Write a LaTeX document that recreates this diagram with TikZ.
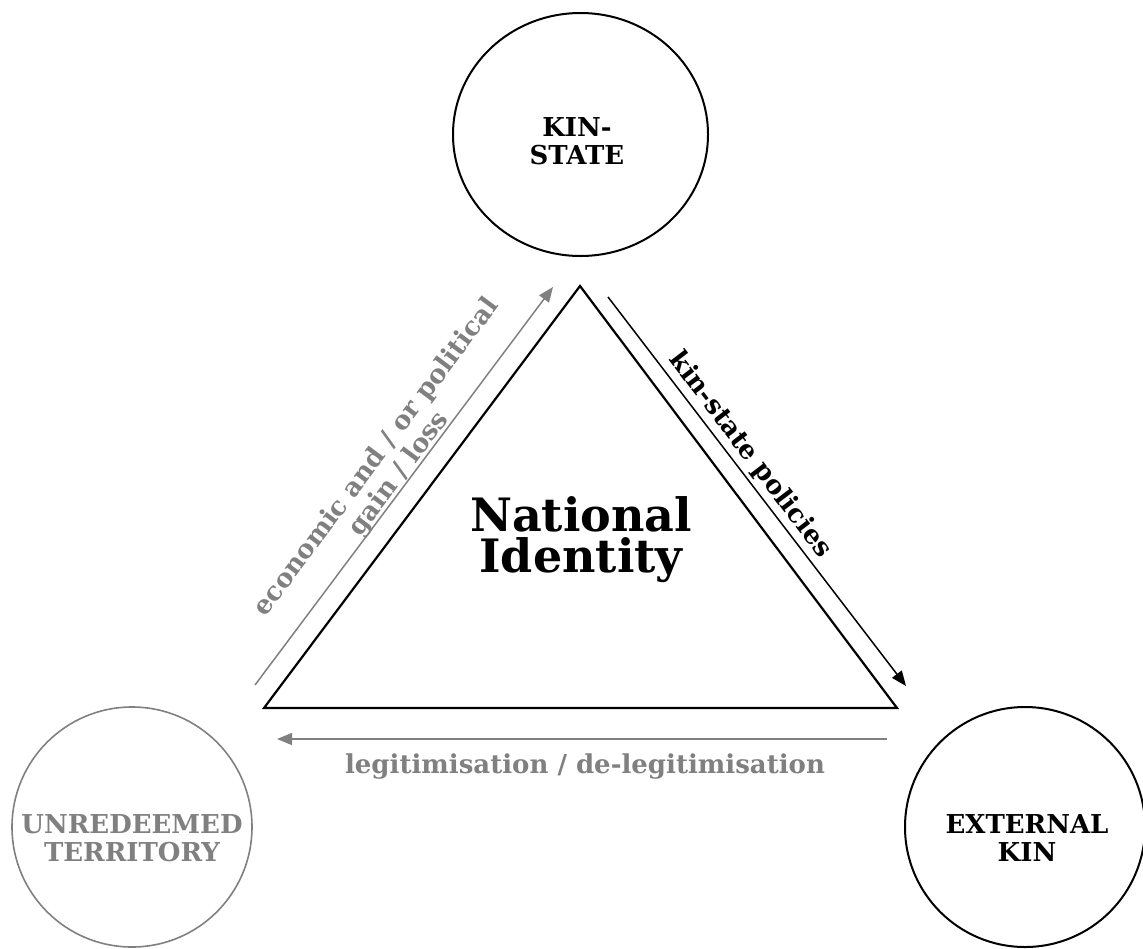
\documentclass[tikz,border=0pt]{standalone}
\usepackage{fontspec}
\setmainfont{DejaVu Serif}
\usetikzlibrary{shapes.geometric,arrows.meta}
\definecolor{grayc}{HTML}{808080}
\tikzset{
  x=1pt,y=1pt,
  bubble/.style={ellipse,draw,line width=2pt,inner sep=0pt},
  graybubble/.style={bubble,draw=grayc,line width=1.6pt},
  lab/.style={font=\bfseries\fontsize{26}{28}\selectfont,align=center},
  edgelab/.style={font=\bfseries\fontsize{26}{28}\selectfont,align=center},
  tip/.style={-{Triangle[length=15pt,width=12pt]}},
}
\begin{document}
\begin{tikzpicture}
\useasboundingbox (0,0) rectangle (1143,-948);
% circles
\node[bubble,minimum width=255pt,minimum height=243pt] (ks) at (580.5,-134.5) {};
\node[lab] (kstext) at (577,-141) {KIN-\\STATE};
\node[graybubble,minimum width=240pt,minimum height=240pt] (ut) at (132,-827) {};
\node[lab,text=grayc] (uttext) at (132,-838) {UNREDEEMED\\TERRITORY};
\node[bubble,minimum width=240pt,minimum height=240pt] (ek) at (1025,-827) {};
\node[lab] (ektext) at (1027,-838) {EXTERNAL\\KIN};
% triangle
\coordinate (tt) at (580,-286);
\coordinate (tl) at (264,-708);
\coordinate (tr) at (897,-708);
\draw[line width=2.2pt,line join=miter] (tt) -- (tl) -- (tr) -- cycle;
\node[font=\bfseries\fontsize{46}{41}\selectfont,align=center] (ni) at (581,-540) {National\\Identity};
% arrows
\coordinate (a1s) at (255,-685);
\coordinate (a1e) at (553,-287);
\draw[grayc,line width=1.5pt,tip] (a1s) -- (a1e);
\node[edgelab,text=grayc,rotate=53.2] (a1lab) at (388,-466) {economic and / or political\\gain / loss};
\coordinate (a2s) at (608,-297);
\coordinate (a2e) at (906,-686);
\draw[line width=1.5pt,tip] (a2s) -- (a2e);
\node[edgelab,rotate=-52.6] (a2lab) at (750,-455) {kin-state policies};
\coordinate (a3s) at (887,-739);
\coordinate (a3e) at (277,-739);
\draw[grayc,line width=1.5pt,tip] (a3s) -- (a3e);
\node[edgelab,text=grayc,anchor=base] (a3lab) at (585,-773) {legitimisation / de-legitimisation};
\end{tikzpicture}
\end{document}
